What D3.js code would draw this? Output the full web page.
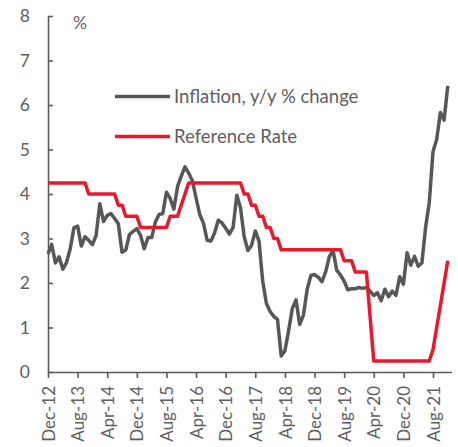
<!DOCTYPE html>
<html lang="en">
<head>
    <meta charset="UTF-8">
    <title>Inflation and Reference Rate</title>
    <script src="https://cdn.jsdelivr.net/npm/d3@7"></script>
    <style>
        body { margin: 0; background: #fff; }
        svg text { font-family: Lato, "Open Sans", sans-serif; fill: #606060; }
    </style>
</head>
<body>
<div id="chart"></div>
<script>
    // monthly, Dec-12 .. Dec-21
    const startMonth = new Date(2012, 11, 1);
    const inflation = [
        2.65,
        2.87, 2.45, 2.59, 2.31, 2.46, 2.77, 3.24, 3.28, 2.83, 3.04, 2.96, 2.86,
        3.07, 3.78, 3.38, 3.52, 3.56, 3.45, 3.33, 2.69, 2.74, 3.09, 3.16, 3.22,
        3.07, 2.77, 3.02, 3.02, 3.37, 3.54, 3.56, 4.04, 3.90, 3.66, 4.17, 4.40,
        4.61, 4.47, 4.30, 3.91, 3.54, 3.34, 2.96, 2.94, 3.13, 3.41, 3.35, 3.23,
        3.10, 3.25, 3.97, 3.69, 3.04, 2.73, 2.85, 3.17, 2.94, 2.04, 1.54, 1.36,
        1.25, 1.18, 0.36, 0.48, 0.93, 1.43, 1.62, 1.07, 1.28, 1.85, 2.17, 2.19,
        2.13, 2.03, 2.25, 2.59, 2.73, 2.29, 2.18, 2.04, 1.85, 1.87, 1.87, 1.90,
        1.88, 1.90, 1.82, 1.72, 1.78, 1.60, 1.86, 1.69, 1.82, 1.72, 2.14, 1.97,
        2.68, 2.40, 2.60, 2.38, 2.45, 3.25, 3.81, 4.95, 5.23, 5.83, 5.66, 6.43
    ];
    const refRate = [
        4.25,
        4.25, 4.25, 4.25, 4.25, 4.25, 4.25, 4.25, 4.25, 4.25, 4.25, 4.00, 4.00,
        4.00, 4.00, 4.00, 4.00, 4.00, 4.00, 3.75, 3.75, 3.50, 3.50, 3.50, 3.50,
        3.25, 3.25, 3.25, 3.25, 3.25, 3.25, 3.25, 3.25, 3.50, 3.50, 3.50, 3.75,
        4.00, 4.25, 4.25, 4.25, 4.25, 4.25, 4.25, 4.25, 4.25, 4.25, 4.25, 4.25,
        4.25, 4.25, 4.25, 4.25, 4.00, 4.00, 3.75, 3.75, 3.50, 3.50, 3.25, 3.25,
        3.00, 3.00, 2.75, 2.75, 2.75, 2.75, 2.75, 2.75, 2.75, 2.75, 2.75, 2.75,
        2.75, 2.75, 2.75, 2.75, 2.75, 2.75, 2.75, 2.50, 2.50, 2.50, 2.25, 2.25,
        2.25, 2.25, 1.25, 0.25, 0.25, 0.25, 0.25, 0.25, 0.25, 0.25, 0.25, 0.25,
        0.25, 0.25, 0.25, 0.25, 0.25, 0.25, 0.25, 0.50, 1.00, 1.50, 2.00, 2.50
    ];
    const xTickLabels = ["Dec-12", "Aug-13", "Apr-14", "Dec-14", "Aug-15", "Apr-16", "Dec-16",
        "Aug-17", "Apr-18", "Dec-18", "Aug-19", "Apr-20", "Dec-20", "Aug-21"];
    const yTicks = [0, 1, 2, 3, 4, 5, 6, 7, 8];
    const seriesNames = ["Inflation, y/y % change", "Reference Rate"];
    const seriesColors = ["#575757", "#e8192c"];

    const width = 458, height = 447;
    const svg = d3.select("#chart").append("svg")
        .attr("width", width)
        .attr("height", height);

    const x = d3.scaleLinear().domain([0, 109]).range([48, 451.5]);
    const y = d3.scaleLinear().domain([0, 8]).range([372, 16]);

    const axisColor = "#5a5a5a";

    // x axis
    const xAxis = svg.append("g")
        .attr("transform", `translate(0,${y(0)})`)
        .call(d3.axisBottom(x)
            .tickValues(xTickLabels.map((d, i) => i * 8))
            .tickFormat((d, i) => xTickLabels[i])
            .tickSize(6)
            .tickSizeOuter(0));
    xAxis.select(".domain").attr("stroke", axisColor).attr("stroke-width", 1.6);
    xAxis.selectAll(".tick line").attr("stroke", axisColor).attr("stroke-width", 1.6);
    xAxis.selectAll(".tick text")
        .attr("transform", "rotate(-90)")
        .attr("text-anchor", "end")
        .attr("x", -14)
        .attr("y", 0)
        .attr("dy", "0.36em")
        .style("font-size", "17px");

    // y axis, ticks pointing inside
    const yAxis = svg.append("g")
        .attr("transform", `translate(${x(0)},0)`)
        .call(d3.axisRight(y)
            .tickValues(yTicks)
            .tickSize(5)
            .tickSizeOuter(0));
    yAxis.select(".domain").attr("stroke", axisColor).attr("stroke-width", 1.6);
    yAxis.selectAll(".tick line").attr("stroke", axisColor).attr("stroke-width", 1.6);
    yAxis.selectAll(".tick text")
        .attr("x", -18)
        .attr("text-anchor", "end")
        .style("font-size", "17.5px");

    svg.append("text")
        .attr("x", 73)
        .attr("y", 29)
        .style("font-size", "17.5px")
        .text("%");

    const line = d3.line()
        .x((d, i) => x(i))
        .y(d => y(d));

    [inflation, refRate].forEach((series, k) => {
        svg.append("path")
            .datum(series)
            .attr("fill", "none")
            .attr("stroke", seriesColors[k])
            .attr("stroke-width", 3.5)
            .attr("stroke-linejoin", "round")
            .attr("d", line);
    });

    // legend
    const legend = svg.selectAll(".legend")
        .data(seriesNames)
        .join("g")
        .attr("transform", (d, i) => `translate(115,${96.5 + i * 40})`);

    legend.append("line")
        .attr("x1", 0)
        .attr("x2", 55)
        .attr("stroke", (d, i) => seriesColors[i])
        .attr("stroke-width", 3.5);

    legend.append("text")
        .attr("x", 59)
        .attr("dy", "0.35em")
        .style("font-size", "18.5px")
        .text(d => d);
</script>
</body>
</html>
